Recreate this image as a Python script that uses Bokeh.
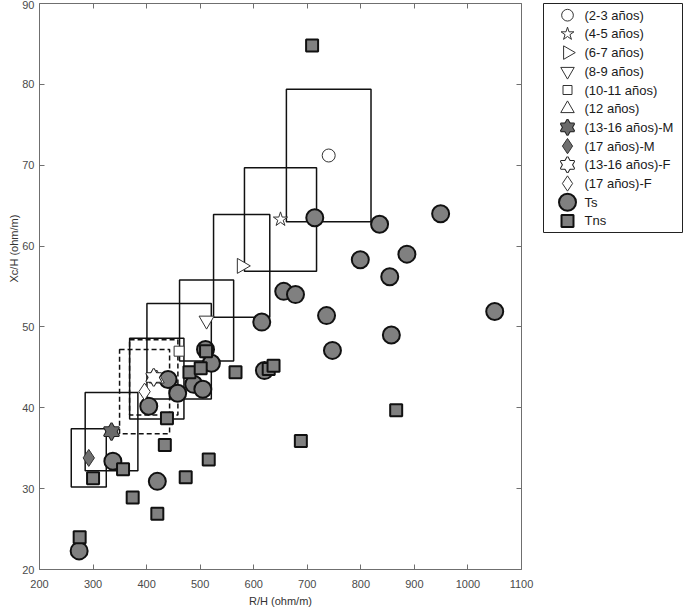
import math
from bokeh.plotting import figure
from bokeh.layouts import row
from bokeh.models import Range1d, LinearAxis, Title, FixedTicker, ColumnDataSource
from bokeh.core.properties import value
from bokeh.embed import file_html
from bokeh.resources import INLINE

# ---------------- data ----------------
x_ticks = [200, 300, 400, 500, 600, 700, 800, 900, 1000, 1100]
y_ticks = [20, 30, 40, 50, 60, 70, 80, 90]

ts_x = [274, 337, 420, 404, 440, 458, 488, 505, 510, 521, 620, 615, 656, 678, 736, 747, 714, 799, 835, 854, 886, 857, 949, 1050]
ts_y = [22.3, 33.4, 30.9, 40.2, 43.5, 41.8, 42.9, 42.3, 47.2, 45.5, 44.6, 50.6, 54.4, 54.0, 51.4, 47.1, 63.5, 58.3, 62.7, 56.2, 59.0, 49.0, 64.0, 51.9]

tns_x = [275, 300, 356, 374, 420, 434, 438, 473, 480, 501, 511, 516, 566, 628, 637, 688, 709, 866]
tns_y = [24.0, 31.3, 32.4, 28.9, 26.9, 35.4, 38.7, 31.4, 44.4, 44.9, 47.0, 33.6, 44.4, 44.8, 45.2, 35.9, 84.8, 39.7]

group_labels = ["(2-3 años)", "(4-5 años)", "(6-7 años)", "(8-9 años)", "(10-11 años)", "(12 años)",
                "(13-16 años)-M", "(17 años)-M", "(13-16 años)-F", "(17 años)-F"]
group_x = [740, 650, 577.5, 512, 460.7, 419, 334.5, 292, 413.3, 396.2]
group_y = [71.2, 63.3, 57.55, 50.8, 47.0, 43.6, 37.05, 33.8, 43.75, 42.0]
group_sd_x = [79, 67.3, 52.5, 50.5, 60.1, 50.7, 49.2, 32.7, 45.1, 46.7]
group_sd_y = [8.2, 6.4, 6.35, 5.0, 5.9, 5.0, 4.85, 3.6, 4.65, 5.2]
group_dashed = [False, False, False, False, False, False, False, False, True, True]

legend_labels = group_labels + ["Ts", "Tns"]

# ---------------- styles ----------------
FONT = "Liberation Sans"
GRAY = "#808080"
EDGE = "#111111"
open_kw = dict(fill_color="white", line_color="#333333", line_width=1)
ts_kw = dict(marker="circle", fill_color=GRAY, line_color=EDGE, line_width=2)
tns_kw = dict(marker="square", fill_color=GRAY, line_color=EDGE, line_width=2)
group_kw = [
    dict(marker="circle", size=13, **open_kw),
    dict(marker="star", size=15, **open_kw),
    dict(marker="triangle", size=15, angle=-math.pi / 2, **open_kw),
    dict(marker="inverted_triangle", size=15, **open_kw),
    dict(marker="square", size=10, **open_kw),
    dict(marker="triangle", size=15, **open_kw),
    "hex:#6a6a6a",
    dict(marker="diamond", size=17, fill_color="#6f6f6f", line_color="#333333", line_width=1),
    "hex:white",
    dict(marker="diamond", size=17, **open_kw),
]


def draw_marker(fig, xs, ys, spec, size_scale=1.0):
    if isinstance(spec, str):
        fill = spec.split(":")[1]
        s = 15 * size_scale
        fig.scatter(xs, ys, marker="triangle", size=s, fill_alpha=0, line_color="#222222", line_width=2)
        fig.scatter(xs, ys, marker="inverted_triangle", size=s, fill_alpha=0, line_color="#222222", line_width=2)
        fig.scatter(xs, ys, marker="triangle", size=s, fill_color=fill, line_color=None)
        fig.scatter(xs, ys, marker="inverted_triangle", size=s, fill_color=fill, line_color=None)
    else:
        kw = dict(spec)
        kw["size"] = kw["size"] * size_scale
        fig.scatter(xs, ys, **kw)


# ---------------- main figure ----------------
FW, FH = 482, 566
p = figure(frame_width=FW, frame_height=FH,
           x_range=Range1d(200, 1100), y_range=Range1d(20, 90),
           output_backend="svg", toolbar_location=None,
           min_border_left=39, min_border_top=2, min_border_bottom=0, min_border_right=21)
p.grid.visible = False
p.outline_line_color = None
p.background_fill_color = "white"
p.border_fill_color = "white"

axis_col = "#6f6f6f"
ax_r = LinearAxis(ticker=FixedTicker(ticks=y_ticks),
                  major_label_overrides={t: "" for t in y_ticks})
ax_t = LinearAxis(ticker=FixedTicker(ticks=x_ticks),
                  major_label_overrides={t: "" for t in x_ticks})
p.add_layout(ax_r, "right")
p.add_layout(ax_t, "above")
p.below[0].ticker = FixedTicker(ticks=x_ticks)
p.left[0].ticker = FixedTicker(ticks=y_ticks)
for ax in p.axis:
    ax.axis_line_color = axis_col
    ax.major_tick_line_color = axis_col
    ax.major_tick_in = 5
    ax.major_tick_out = 0
    ax.minor_tick_line_color = None
    ax.major_label_text_font = FONT
    ax.major_label_text_font_size = "11px"
    ax.major_label_text_color = "#4a4a4a"

ax_t.major_label_text_font_size = "1px"
ax_t.major_label_standoff = 0
ax_r.major_label_text_font_size = "1px"
ax_r.major_label_standoff = 0

p.below[0].axis_label = "R/H (ohm/m)"
p.below[0].axis_label_text_font = FONT
p.below[0].axis_label_text_font_size = "11px"
p.below[0].axis_label_text_font_style = "normal"
p.below[0].axis_label_text_color = "#333333"
p.below[0].major_label_standoff = 10
p.below[0].axis_label_standoff = 4
p.left[0].major_label_standoff = 5

# y-axis title, starting near y = 55.5 (as in the reference)
p.add_layout(Title(text="Xc/H (ohm/m)", align="left", offset=int((55.5 - 20) / 70 * FH), standoff=0,
                   text_font=FONT, text_font_size="11px", text_font_style="normal",
                   text_color="#333333"), "left")

# boxes
def box_src(dashed):
    idx = [i for i in range(len(group_x)) if group_dashed[i] == dashed]
    return ColumnDataSource(dict(
        left=[group_x[i] - group_sd_x[i] for i in idx],
        right=[group_x[i] + group_sd_x[i] for i in idx],
        bottom=[group_y[i] - group_sd_y[i] for i in idx],
        top=[group_y[i] + group_sd_y[i] for i in idx]))

p.quad(left="left", right="right", bottom="bottom", top="top", source=box_src(False),
       fill_alpha=0, line_color=EDGE, line_width=1.5)
p.quad(left="left", right="right", bottom="bottom", top="top", source=box_src(True),
       fill_alpha=0, line_color=EDGE, line_width=1.5, line_dash="5 3")

# individual points
p.scatter(ts_x, ts_y, size=17, **ts_kw)
p.scatter(tns_x, tns_y, size=12, **tns_kw)

# group means
for i in range(len(group_x)):
    draw_marker(p, [group_x[i]], [group_y[i]], group_kw[i])

# ---------------- legend (separate small figure) ----------------
LW, LH = 139, 229
leg = figure(frame_width=LW, frame_height=LH, x_range=Range1d(0, LW), y_range=Range1d(LH, 0),
             output_backend="svg", toolbar_location=None, x_axis_type=None, y_axis_type=None,
             min_border_left=1, min_border_right=1, min_border_top=3, min_border_bottom=1)
leg.grid.visible = False
leg.outline_line_color = "#222222"
leg.outline_line_width = 1
leg.background_fill_color = "white"
leg.border_fill_color = "white"

row_y = [11.7 + 18.7 * i for i in range(len(legend_labels))]
mx = 24
for i in range(len(group_labels)):
    draw_marker(leg, [mx], [row_y[i]], group_kw[i], size_scale=0.9)
leg.scatter([mx], [row_y[10]], size=17, **ts_kw)
leg.scatter([mx], [row_y[11]], size=12, **tns_kw)
leg.text(x=[41] * len(legend_labels), y=row_y, text=legend_labels,
         text_baseline="middle", text_align="left",
         text_font=value(FONT), text_font_size="13px", text_color="#1a1a1a")

layout = row(p, leg)
open("out.html", "w").write(file_html(layout, INLINE))
